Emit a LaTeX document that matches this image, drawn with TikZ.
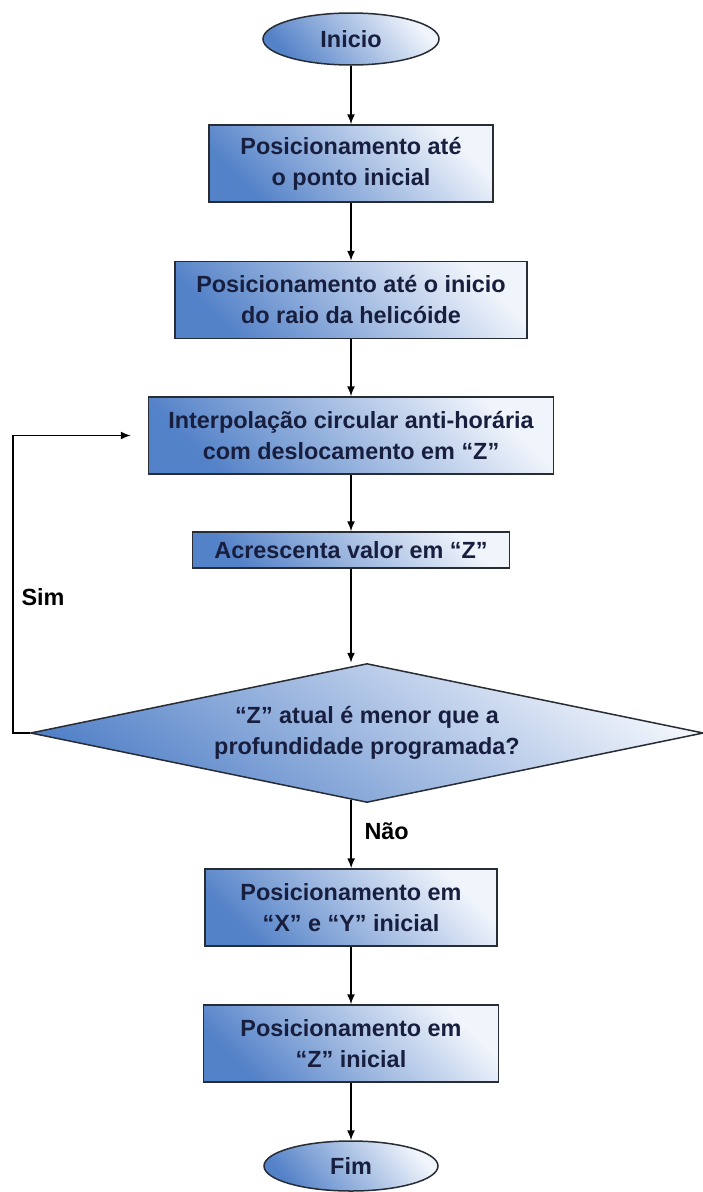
\documentclass[tikz,border=0pt]{standalone}
\usepackage{fontspec}
\setmainfont{Liberation Sans}
\usetikzlibrary{shapes.geometric,arrows.meta,calc,positioning}

\definecolor{boxdark}{RGB}{84,130,200}
\definecolor{boxlight}{RGB}{240,244,251}
\definecolor{boxtext}{RGB}{24,30,62}
\definecolor{boxline}{RGB}{40,44,52}

\tikzset{
  flowbox/.style={rectangle, draw=boxline, line width=1.5pt, inner sep=0pt,
    top color=boxdark, bottom color=boxlight, shading angle=135,
    text=boxtext, align=center, font=\fontsize{23.4}{31}\selectfont\bfseries},
  term/.style={ellipse, draw=boxline, line width=1.5pt, inner sep=0pt,
    top color=boxdark, bottom color=boxlight, shading angle=130,
    text=boxtext, font=\fontsize{23.4}{31}\selectfont\bfseries},
  decision/.style={diamond, aspect=4.84, draw=boxline, line width=1.5pt, inner sep=0pt,
    top color=boxdark, bottom color=boxlight, shading angle=145,
    text=boxtext, align=center, font=\fontsize{23.4}{31}\selectfont\bfseries},
  lbl/.style={text=black, font=\fontsize{23.4}{31}\selectfont\bfseries},
  flow/.style={line width=1.5pt, -{Latex[length=10pt,width=8pt]}}
}

\begin{document}
\begin{tikzpicture}[x=1pt,y=-1pt]
            % page frame
            \useasboundingbox (0,0) rectangle (703,1192);

            % Inicio
            \node[term, minimum width=176, minimum height=52] (inicio) at (351,39) {Inicio};

            % Posicionamento
            \node[flowbox, minimum width=284, minimum height=77] (pos1) at (351,163.5) {Posicionamento até\\o ponto inicial};
            \node[flowbox, minimum width=352, minimum height=77] (pos2) at (351,300) {Posicionamento até o inicio\\do raio da helicóide};

            % Interpolacao e incremento
            \node[flowbox, minimum width=405, minimum height=77] (interp) at (351,435.5) {Interpolação circular anti-horária\\com deslocamento em “Z”};
            \node[flowbox, minimum width=317, minimum height=36] (acresc) at (351,550) {Acrescenta valor em “Z”};

            % Teste
            \node[decision, minimum width=673, minimum height=139] (teste) at (367,733) {“Z” atual é menor que a\\profundidade programada?};

            % Retorno
            \node[flowbox, minimum width=292, minimum height=77] (posxy) at (351,907.5) {Posicionamento em\\“X” e “Y” inicial};
            \node[flowbox, minimum width=295, minimum height=77] (posz) at (351,1043.5) {Posicionamento em\\“Z” inicial};

            % Fim
            \node[term, minimum width=174, minimum height=50] (fim) at (351,1166) {Fim};

            % Ligacoes
            \draw[flow] (inicio) -- (pos1);
            \draw[flow] (pos1) -- (pos2);
            \draw[flow] (pos2) -- (interp);
            \draw[flow] (interp) -- (acresc);
            \draw[flow] (acresc) -- (acresc |- teste.north);
            \coordinate (saida) at ($(teste.west)!0.953!(teste.south)$);
            \draw[flow] (saida) -- (saida |- posxy.north);
            \draw[flow] (posxy) -- (posz);
            \draw[flow] (posz) -- (fim);

            % Laco
            \coordinate (volta) at ($(interp.west)+(-17,0)$);
            \draw[flow] (teste.west) -- ++(-17,0) |- (volta);

            % Rotulos
            \node[lbl] (sim) at (43,597) {Sim};
            \node[lbl, anchor=west] (nao) at (361,831) {Não};
        \end{tikzpicture}
\end{document}
